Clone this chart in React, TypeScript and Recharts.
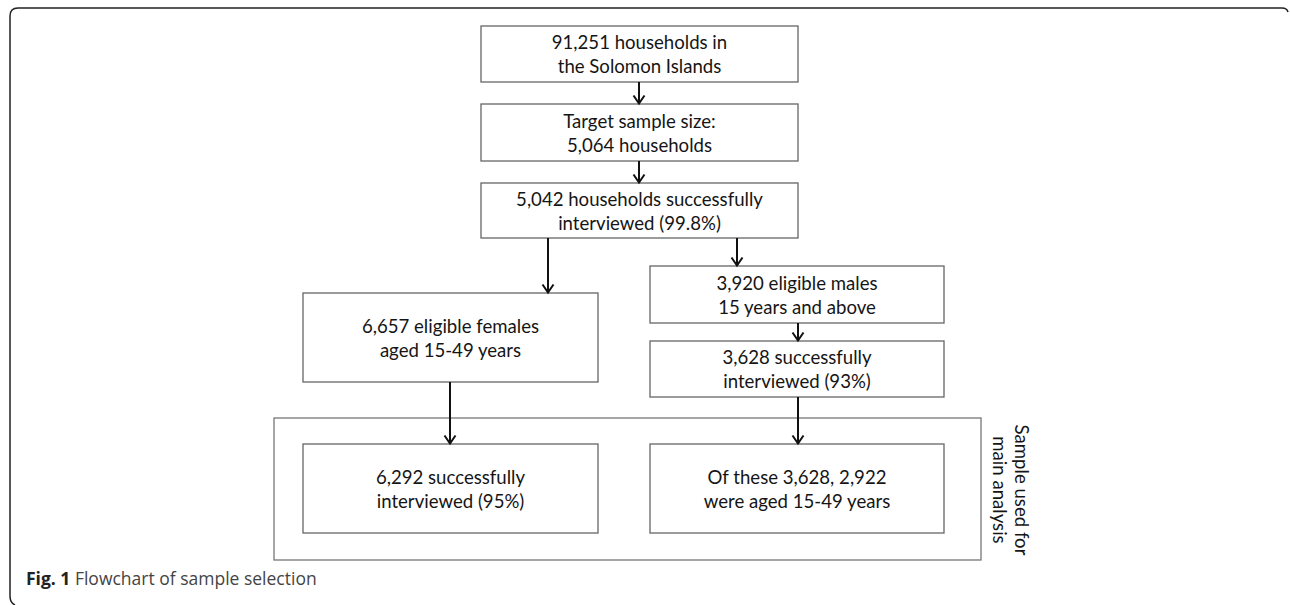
import {
  ScatterChart,
  Scatter,
  XAxis,
  YAxis,
  ReferenceArea,
  ReferenceLine,
  Customized,
} from "recharts";

// flowchart boxes (text lines + edges in chart units)
const boxLabels = [
  ["91,251 households in", "the Solomon Islands"],
  ["Target sample size:", "5,064 households"],
  ["5,042 households successfully", "interviewed (99.8%)"],
  ["6,657 eligible females", "aged 15-49 years"],
  ["3,920 eligible males", "15 years and above"],
  ["3,628 successfully", "interviewed (93%)"],
  ["6,292 successfully", "interviewed (95%)"],
  ["Of these 3,628, 2,922", "were aged 15-49 years"],
];
const boxLeft = [481, 481, 481, 303, 650, 650, 303, 650];
const boxRight = [798, 798, 798, 598, 944, 944, 598, 944];
const boxTop = [26, 104, 183, 293, 266, 341, 444, 444];
const boxBottom = [82, 161, 238, 382, 323, 397, 533, 533];

// arrows: vertical, from y1 down to y2
const arrowX = [639, 639, 548, 737, 798, 450, 798];
const arrowFrom = [82, 161, 238, 238, 323, 382, 397];
const arrowTo = [104, 183, 293, 266, 341, 444, 444];

// "main analysis" group
const groupEdges = [274, 981, 418, 560];
const groupLabel = ["Sample used for", "main analysis"];

const captionBold = "Fig. 1";
const captionText = " Flowchart of sample selection";

const boxes = boxLabels.map((lines, i) => ({
  x: (boxLeft[i] + boxRight[i]) / 2,
  y: (boxTop[i] + boxBottom[i]) / 2,
  lines,
}));

const FONT = "Lato, 'Open Sans', sans-serif";

function BoxText(props: any) {
  const { cx, cy, payload } = props;
  return (
    <text textAnchor="middle" fontFamily={FONT} fontSize={18.6} fill="#151515">
      <tspan x={cx} y={cy - 5}>
        {payload.lines[0]}
      </tspan>
      <tspan x={cx} y={cy + 19}>
        {payload.lines[1]}
      </tspan>
    </text>
  );
}

function Arrow(props: any) {
  const { x1, y1, x2, y2 } = props;
  return (
    <g>
      <line x1={x1} y1={y1} x2={x2} y2={y2 - 1} stroke="#111" strokeWidth={2} />
      <path
        d={`M${x2 - 5.5},${y2 - 8.5} L${x2},${y2 - 0.5} L${x2 + 5.5},${y2 - 8.5}`}
        fill="none"
        stroke="#111"
        strokeWidth={2}
      />
    </g>
  );
}

function BoxRect(props: any) {
  const { x, y, width, height } = props;
  return (
    <rect x={x} y={y} width={width} height={height} fill="none" stroke="#666" strokeWidth={1.3} />
  );
}

function GroupRect(props: any) {
  const { x, y, width, height } = props;
  const cy = y + height / 2 + 1;
  const right = x + width;
  return (
    <g>
      <rect x={x} y={y} width={width} height={height} fill="none" stroke="#777" strokeWidth={1.3} />
      {groupLabel.map((t, i) => (
        <text
          key={t}
          x={right + 34 - i * 22}
          y={cy}
          transform={`rotate(90, ${right + 34 - i * 22}, ${cy})`}
          textAnchor="middle"
          fontFamily={FONT}
          fontSize={18.6}
          fill="#151515"
        >
          {t}
        </text>
      ))}
    </g>
  );
}

function Frame() {
  return (
    <g>
      <path
        d="M15,605 Q10,603 10,596 L10,16 Q10,8 18,8 L1282,8 Q1287,8 1288,12"
        fill="none"
        stroke="#222"
        strokeWidth={1.5}
      />
      <text x={26} y={585} fontFamily="'Open Sans', sans-serif" fontSize={17.5} fill="#444">
        <tspan fontWeight="bold" fill="#222">
          {captionBold}
        </tspan>
        <tspan>{captionText}</tspan>
      </text>
    </g>
  );
}

export default function App() {
  return (
    <div style={{ width: 1290, height: 605, background: "#fff" }}>
      <style>{`body{margin:0}`}</style>
      <ScatterChart width={1290} height={605} margin={{ top: 0, right: 0, bottom: 0, left: 0 }}>
        <XAxis type="number" dataKey="x" domain={[0, 1290]} hide />
        <YAxis type="number" dataKey="y" domain={[0, 605]} reversed hide />
        <Customized component={Frame} />
        {boxLeft.map((_, i) => (
          <ReferenceArea
            key={`b${i}`}
            x1={boxLeft[i]}
            x2={boxRight[i]}
            y1={boxTop[i]}
            y2={boxBottom[i]}
            shape={BoxRect}
          />
        ))}
        <ReferenceArea
          x1={groupEdges[0]}
          x2={groupEdges[1]}
          y1={groupEdges[2]}
          y2={groupEdges[3]}
          shape={GroupRect}
        />
        {arrowX.map((x, i) => (
          <ReferenceLine
            key={`a${i}`}
            segment={[
              { x, y: arrowFrom[i] },
              { x, y: arrowTo[i] },
            ]}
            shape={Arrow}
          />
        ))}
        <Scatter data={boxes} shape={BoxText} isAnimationActive={false} />
      </ScatterChart>
    </div>
  );
}
